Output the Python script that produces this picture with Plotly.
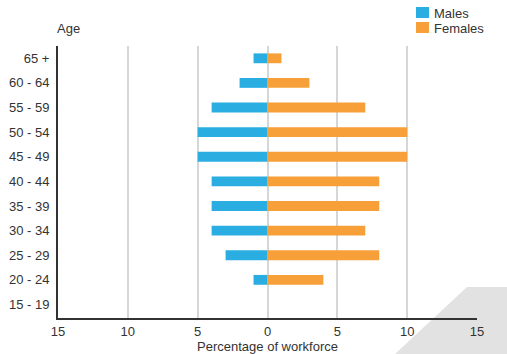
import plotly.graph_objects as go

# Age bands, listed bottom to top
age_groups = ["15 - 19", "20 - 24", "25 - 29", "30 - 34", "35 - 39", "40 - 44",
              "45 - 49", "50 - 54", "55 - 59", "60 - 64", "65 +"]
males = [0, 1, 3, 4, 4, 4, 5, 5, 4, 2, 1]
females = [0, 4, 8, 7, 8, 8, 10, 10, 7, 3, 1]

tick_vals = [-15, -10, -5, 0, 5, 10, 15]
tick_text = ["15", "10", "5", "0", "5", "10", "15"]

series_names = ["Males", "Females"]
male_color = "#2aaee2"
female_color = "#f7a03a"
text_color = "#333333"
font_family = "Liberation Sans, Arial, sans-serif"

fig = go.Figure()
fig.add_trace(go.Bar(
    y=age_groups, x=[-v for v in males], orientation="h", name=series_names[0],
    marker=dict(color=male_color, line=dict(width=0)),
))
fig.add_trace(go.Bar(
    y=age_groups, x=females, orientation="h", name=series_names[1],
    marker=dict(color=female_color, line=dict(width=0)),
))

W, H = 507, 354
ml, mr, mt, mb = 58, 30, 46, 36
pw, ph = W - ml - mr, H - mt - mb


def px_to_paper(px, py):
    return (px - ml) / pw, (H - mb - py) / ph


shapes = []
annotations = []

# decorative grey corner in the lower right
corner = [(395, 354), (467, 287), (507, 287), (507, 354)]
pts = [px_to_paper(x, y) for x, y in corner]
path = "M " + " L ".join(f"{x:.4f},{y:.4f}" for x, y in pts) + " Z"
shapes.append(dict(type="path", path=path, xref="paper", yref="paper",
                   fillcolor="#e2e2e2", line=dict(width=0), layer="below"))

# compact legend block in the top right corner
for i, (name, color) in enumerate(zip(series_names, [male_color, female_color])):
    top = 7 + i * 15
    x0, y0 = px_to_paper(416, top + 11)
    x1, y1 = px_to_paper(429, top)
    shapes.append(dict(type="rect", xref="paper", yref="paper",
                       x0=x0, y0=y0, x1=x1, y1=y1,
                       fillcolor=color, line=dict(width=0)))
    tx, ty = px_to_paper(432, top + 6)
    annotations.append(dict(text=name, xref="paper", yref="paper", x=tx, y=ty,
                            xanchor="left", yanchor="middle", showarrow=False,
                            font=dict(size=13, color=text_color)))

annotations.append(dict(text="Age", xref="paper", yref="paper",
                        x=(55 - ml) / pw, y=px_to_paper(0, 28)[1],
                        xanchor="left", yanchor="middle", showarrow=False,
                        font=dict(size=13, color=text_color)))

fig.update_layout(
    width=W, height=H,
    margin=dict(l=ml, r=mr, t=mt, b=mb, autoexpand=False),
    paper_bgcolor="white", plot_bgcolor="white",
    barmode="relative", bargap=0.6,
    font=dict(family=font_family, size=13, color=text_color),
    showlegend=False,
    shapes=shapes,
    annotations=annotations,
)

fig.update_xaxes(
    range=[-15, 15], tickvals=tick_vals, ticktext=tick_text,
    showgrid=True, gridcolor="#d3d7d8", gridwidth=2,
    zeroline=True, zerolinecolor="#d3d7d8", zerolinewidth=2,
    showline=True, linecolor="#333333", linewidth=2,
    ticks="", tickfont=dict(size=13, color=text_color), automargin=False,
    title=dict(text="Percentage of workforce", font=dict(size=13, color=text_color)),
)
fig.update_yaxes(
    type="category", range=[-0.55, 10.5],
    showgrid=False, zeroline=False,
    showline=True, linecolor="#333333", linewidth=2, automargin=False,
    ticks="", ticklabelstandoff=4, tickfont=dict(size=13, color=text_color),
)

fig.write_html("out.html")
